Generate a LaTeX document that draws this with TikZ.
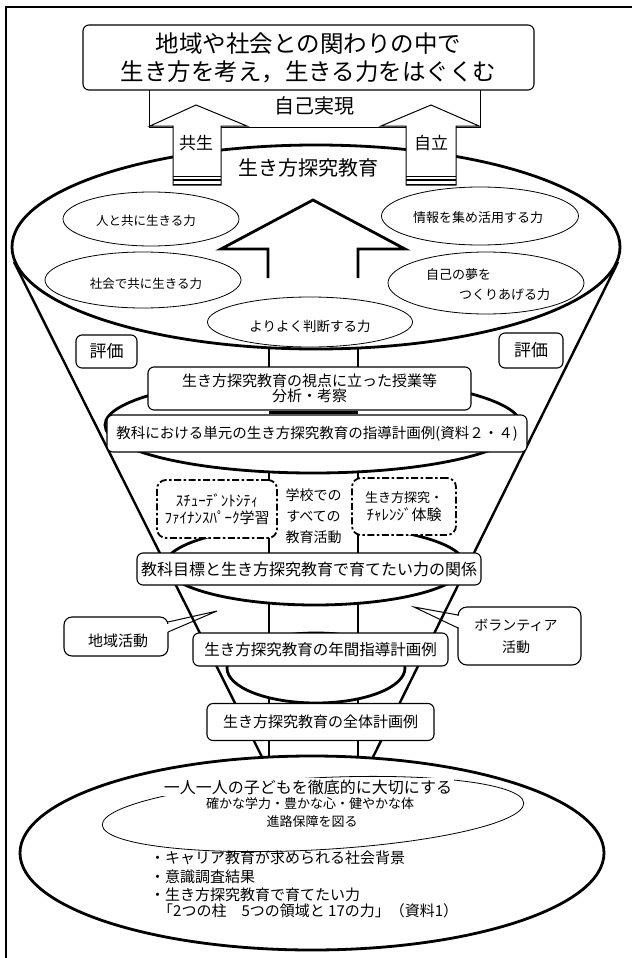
\documentclass[tikz,border=0pt]{standalone}
\usepackage{fontspec}
\setmainfont{Noto Sans CJK JP}
\usetikzlibrary{shapes.geometric}
\newcommand\myfs[2]{\fontsize{#1}{#2}\selectfont}
\begin{document}
\begin{tikzpicture}[x=1pt,y=-1pt,
  thk/.style={line width=2.8pt},
  fun/.style={line width=2.4pt},
  thin/.style={line width=0.8pt},
  bx/.style={draw, fill=white, rounded corners=6pt, line width=1.1pt, inner sep=0pt, align=center},
  oval/.style={draw, ellipse, thin, inner sep=0pt},
  disc/.style={draw, ellipse, fill=white, thk, inner sep=0pt},
  dbox/.style={draw, fill=white, rounded corners=9pt, line width=1.8pt, dash pattern=on 7pt off 2.5pt on 2.5pt off 2.5pt, inner sep=0pt, align=center},
  lbl/.style={inner sep=0pt, align=center},
  arr/.style={line width=1pt, fill=white, line join=miter},
]
\useasboundingbox (0,0) rectangle (632,958);
% frame
\coordinate (fr0) at (6,958); \coordinate (fr1) at (6,7); \coordinate (fr2) at (632,7);
\draw[line width=2.4pt] (fr0) -- (fr1) -- (fr2);
% funnel and verticals
\coordinate (fl1) at (14,262); \coordinate (fl2) at (262,757);
\coordinate (fq1) at (618,262); \coordinate (fq2) at (373,757);
\draw[fun] (fl1) -- (fl2);
\draw[fun] (fq1) -- (fq2);
\coordinate (vl1) at (269,349); \coordinate (vl2) at (269,757);
\coordinate (vr1) at (358,349); \coordinate (vr2) at (358,757);
\draw[fun] (vl1) -- (vl2);
\draw[fun] (vr1) -- (vr2);
% top ellipse
\node[disc, minimum width=608pt, minimum height=204pt] (E1) at (316,247) {};
% goal box and self-realisation frame
\coordinate (sj1) at (149,90); \coordinate (sj2) at (149,127);
\coordinate (sj3) at (480,127); \coordinate (sj4) at (480,90);
\draw[line width=1pt] (sj1) -- (sj2) -- (sj3) -- (sj4);
\node[bx, minimum width=451pt, minimum height=65pt, font=\myfs{23.5}{28}] (goal) at (308.5,57.5) {地域や社会との関わりの中で\\生き方を考え，生きる力をはぐくむ};
\node[lbl, font=\myfs{20}{24}] (jiko) at (314,106) {自己実現};
% small up arrows
\draw[arr] (173,185) -- (173,126) -- (150,126) -- (196,105) -- (247,126) -- (221,126) -- (221,185) -- cycle;
\draw[line width=0.8pt] (173,176) -- (221,176);
\draw[line width=1.5pt] (173,180) -- (221,180);
\draw[line width=1.8pt] (173,184.5) -- (221,184.5);
\draw[arr] (406,185) -- (406,126) -- (381,126) -- (431,105) -- (479,126) -- (456,126) -- (456,185) -- cycle;
\draw[line width=0.8pt] (406,176) -- (456,176);
\draw[line width=1.5pt] (406,180) -- (456,180);
\draw[line width=1.8pt] (406,184.5) -- (456,184.5);
\node[lbl, font=\myfs{17}{20}] (kyosei) at (196,143) {共生};
\node[lbl, font=\myfs{17}{20}] (jiritsu) at (431,143) {自立};
\node[lbl, font=\myfs{20}{24}] (ikikata) at (308,168) {生き方探究教育};
% inner ovals
\node[oval, minimum width=176pt, minimum height=54pt] (o1) at (151,219) {};
\node[lbl, font=\myfs{12.5}{15}] (t1) at (146,221) {人と共に生きる力};
\node[oval, minimum width=196pt, minimum height=56pt] (o2) at (143,280) {};
\node[lbl, font=\myfs{12.5}{15}] (t2) at (146,284) {社会で共に生きる力};
\node[oval, minimum width=197pt, minimum height=58pt] (o3) at (480,216) {};
\node[lbl, font=\myfs{13}{15}] (t3) at (478,218) {情報を集め活用する力};
\node[oval, minimum width=196pt, minimum height=62pt] (o4) at (486,283) {};
\node[lbl, anchor=west, font=\myfs{13}{15}] (t4a) at (426,275) {自己の夢を};
\node[lbl, anchor=west, font=\myfs{13}{15}] (t4b) at (459,295) {つくりあげる力};
\node[oval, minimum width=205pt, minimum height=50pt] (o5) at (310,322) {};
\node[lbl, font=\myfs{13.5}{15}] (t5) at (310,326) {よりよく判断する力};
% big arrow
\draw[thk, line join=miter] (268,278) -- (268,249) -- (221,249) -- (313,200) -- (405,249) -- (358,249) -- (358,278);
% evaluation boxes
\node[bx, minimum width=61pt, minimum height=33pt, font=\myfs{17}{20}] (hy1) at (106.5,351.5) {評価};
\node[bx, minimum width=64pt, minimum height=35pt, font=\myfs{17}{20}] (hy2) at (531,350.5) {評価};
% second disc
\node[disc, minimum width=416pt, minimum height=96pt] (E2) at (313,425) {};
\coordinate (sg1) at (269,412.5); \coordinate (sg2) at (358,412.5);
\draw[fun] (sg1) -- (sg2);
\node[bx, minimum width=323pt, minimum height=43pt, font=\myfs{15}{15.5}] (bunseki) at (309.5,388.5) {生き方探究教育の視点に立った授業等\\分析・考察};
\node[bx, minimum width=420pt, minimum height=37pt, font=\myfs{14.5}{17}] (kyoka) at (317,433.5) {教科における単元の生き方探究教育の指導計画例(資料２・４)};
% third disc
\node[disc, minimum width=300pt, minimum height=80pt] (E3) at (315,565) {};
\fill[white] (269,475) rectangle (358,553);
\coordinate (cl1) at (269,473); \coordinate (cl2) at (269,553);
\coordinate (cr1) at (358,473); \coordinate (cr2) at (358,553);
\draw[fun] (cl1) -- (cl2);
\draw[fun] (cr1) -- (cr2);
\node[lbl, font=\myfs{14}{21}] (col) at (313.5,516) {学校での\\すべての\\教育活動};
\node[dbox, minimum width=120pt, minimum height=58pt, font=\myfs{15}{16.5}] (sfp) at (217,509) {ｽﾁｭｰﾃﾞﾝﾄｼﾃｨ\\ﾌｧｲﾅﾝｽﾊﾟｰｸ学習};
\node[dbox, minimum width=104pt, minimum height=57pt, font=\myfs{15}{18}] (chl) at (404,506.5) {{\myfs{13}{18}生き方探究・}\\ﾁｬﾚﾝｼﾞ体験};
\node[bx, minimum width=344pt, minimum height=32pt, font=\myfs{16}{19}] (mokuhyo) at (309,569) {教科目標と生き方探究教育で育てたい力の関係};
% fourth disc
\node[disc, minimum width=178pt, minimum height=70pt] (E5) at (316,668) {};
\node[bx, minimum width=255pt, minimum height=33pt, font=\myfs{15.5}{18}] (nenkan) at (320.5,649.5) {生き方探究教育の年間指導計画例};
% callouts
\node[bx, rounded corners=8pt, minimum width=104pt, minimum height=39pt] (chiiki) at (116,636.5) {};
\fill[white] (166,623.5) rectangle (171,631.5);
\coordinate (ct) at (217,611);
\draw[line width=1pt] (168,622) -- (ct) -- (168,632);
\node[lbl, font=\myfs{15}{18}] (chiikit) at (118,641) {地域活動};
\node[bx, rounded corners=9pt, minimum width=123pt, minimum height=58pt] (vol) at (519.5,636) {};
\fill[white] (455,616) rectangle (461,627);
\coordinate (vt) at (414,607);
\draw[line width=1pt] (458,615) -- (vt) -- (458,628);
\node[lbl, font=\myfs{14}{22}] (volt) at (516,636) {ボランティア\\活動};
\node[bx, minimum width=227pt, minimum height=37pt, font=\myfs{15}{18}] (zentai) at (320.5,722) {生き方探究教育の全体計画例};
% bottom disc
\node[disc, minimum width=584pt, minimum height=194pt] (E6) at (312,853) {};
\node[oval, minimum width=422pt, minimum height=72pt, rotate=3] (E7) at (313,814) {};
\node[lbl, fill=white, inner sep=1.5pt, font=\myfs{16}{19}] (b1) at (308,787) {一人一人の子どもを徹底的に大切にする};
\node[lbl, font=\myfs{13}{15}] (b2) at (310,804) {確かな学力・豊かな心・健やかな体};
\node[lbl, font=\myfs{13}{15}] (b3) at (312,822) {進路保障を図る};
\node[lbl, anchor=west, font=\myfs{15}{17}] (c1) at (150,858) {・キャリア教育が求められる社会背景};
\node[lbl, anchor=west, font=\myfs{15}{17}] (c2) at (150,877) {・意識調査結果};
\node[lbl, anchor=west, font=\myfs{15}{17}] (c3) at (150,895) {・生き方探究教育で育てたい力};
\node[lbl, anchor=west, font=\myfs{15}{17}] (c4) at (158,911) {「2つの柱　5つの領域と 17の力」（資料1）};
\end{tikzpicture}
\end{document}
